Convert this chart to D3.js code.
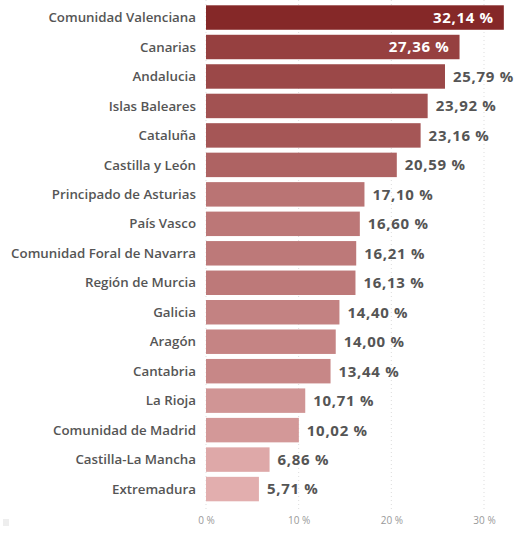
<!DOCTYPE html>
<html>
<head>
	<meta charset='utf-8'>
	<title>Comunidades</title>
	<style>
		body { margin: 0; background: #fff; }
		.label { font-family: 'Open Sans', sans-serif; font-weight: 600; font-size: 13.3px; fill: #555; }
		.value { font-family: 'Open Sans', sans-serif; font-weight: 700; font-size: 15px; letter-spacing: 0.7px; fill: #555; }
		.value.inside { fill: #fff; }
		.axis text { font-family: 'Open Sans', sans-serif; font-size: 10px; fill: #999; }
		.axis path, .axis line { display: none; }
		.grid line { stroke: #ddd; stroke-dasharray: 1,3; }
	</style>
</head>
<body>
<script src='https://d3js.org/d3.v7.min.js'></script>
<script>
	'use strict';

	const regions = ['Comunidad Valenciana', 'Canarias', 'Andalucia', 'Islas Baleares', 'Cataluña',
		'Castilla y León', 'Principado de Asturias', 'País Vasco', 'Comunidad Foral de Navarra',
		'Región de Murcia', 'Galicia', 'Aragón', 'Cantabria', 'La Rioja', 'Comunidad de Madrid',
		'Castilla-La Mancha', 'Extremadura'];
	const values = [32.14, 27.36, 25.79, 23.92, 23.16, 20.59, 17.10, 16.60, 16.21, 16.13,
		14.40, 14.00, 13.44, 10.71, 10.02, 6.86, 5.71];
	const ticks = [0, 10, 20, 30];

	const width = 517;
	const height = 533;

	const data = regions.map(function(r, i) { return {name: r, value: values[i]}; });

	const x = d3.scaleLinear().domain([0, 33]).range([206, 511.8]);
	const y = d3.scaleBand().domain(regions).range([2.8, 503.8]).paddingInner(0.17).paddingOuter(0.085);
	const color = d3.scaleLinear().domain([d3.min(values), d3.max(values)]).range(['#e2aeae', '#852828']);

	const svg = d3.select('body').append('svg')
		.attr('width', width)
		.attr('height', height);

	// сетка
	svg.append('g')
		.attr('class', 'grid')
		.selectAll('line')
		.data(ticks)
		.enter().append('line')
		.attr('x1', function(d) { return x(d); })
		.attr('x2', function(d) { return x(d); })
		.attr('y1', 0)
		.attr('y2', 510);

	svg.append('g')
		.attr('class', 'axis')
		.attr('transform', 'translate(0,' + 513 + ')')
		.call(d3.axisBottom(x).tickValues(ticks).tickSize(0).tickPadding(4)
			.tickFormat(function(d) { return d + ' %'; }));

	const fmt = function(v) { return v.toFixed(2).replace('.', ',') + ' %'; };

	svg.selectAll('.bar')
		.data(data)
		.enter().append('rect')
		.attr('class', 'bar')
		.attr('x', x(0))
		.attr('y', function(d) { return y(d.name); })
		.attr('width', function(d) { return x(d.value) - x(0); })
		.attr('height', y.bandwidth())
		.attr('fill', function(d) { return color(d.value); });

	svg.selectAll('.label')
		.data(data)
		.enter().append('text')
		.attr('class', 'label')
		.attr('x', 196)
		.attr('y', function(d) { return y(d.name) + y.bandwidth() / 2; })
		.attr('dy', '0.35em')
		.attr('text-anchor', 'end')
		.text(function(d) { return d.name; });

	// значения: у длинных столбцов внутри, белым
	svg.selectAll('.value')
		.data(data)
		.enter().append('text')
		.attr('class', function(d) { return d.value > 27 ? 'value inside' : 'value'; })
		.attr('x', function(d) { return d.value > 27 ? x(d.value) - 10 : x(d.value) + 8; })
		.attr('y', function(d) { return y(d.name) + y.bandwidth() / 2; })
		.attr('dy', '0.36em')
		.attr('text-anchor', function(d) { return d.value > 27 ? 'end' : 'start'; })
		.text(function(d) { return fmt(d.value); });

	svg.append('rect')
		.attr('x', 3).attr('y', 519).attr('width', 6).attr('height', 7)
		.attr('fill', '#eee');
</script>
</body>
</html>
